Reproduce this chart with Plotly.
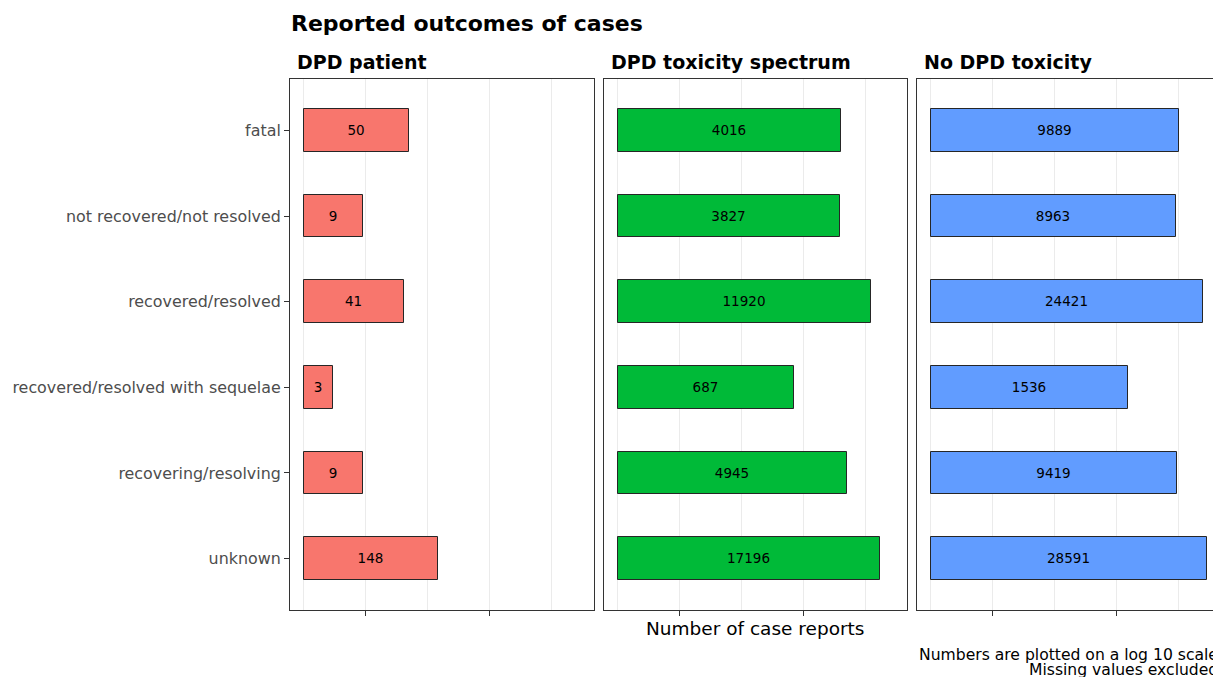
import numpy as np
import plotly.graph_objects as go

outcomes = ["fatal", "not recovered/not resolved", "recovered/resolved",
            "recovered/resolved with sequelae", "recovering/resolving", "unknown"]
panels = ["DPD patient", "DPD toxicity spectrum", "No DPD toxicity"]
dpd_patient = [50, 9, 41, 3, 9, 148]
dpd_toxicity_spectrum = [4016, 3827, 11920, 687, 4945, 17196]
no_dpd_toxicity = [9889, 8963, 24421, 1536, 9419, 28591]
panel_values = [dpd_patient, dpd_toxicity_spectrum, no_dpd_toxicity]
colors = ["#F8766D", "#00BA38", "#619CFF"]
major_ticks = [10, 1000]
minor_ticks = [1, 100, 10000]

W, H = 1213, 677
FONT = "DejaVu Sans"


def fx(px):
    return px / W


def fy(py):
    return 1 - py / H


# panel pixel extents on the page (left, right); last panel is clipped by the page edge
panel_px = [(290, 594), (604, 907), (917, 1213)]
full_width = 304.0
top_px, bottom_px = 79, 610

vmax = max(max(v) for v in panel_values)
lmax = np.log10(vmax)
lo = -0.05 * lmax
hi = lmax * 1.05
span = hi - lo

fig = go.Figure()
for i, (name, vals, col) in enumerate(zip(panels, panel_values, colors)):
    sfx = "" if i == 0 else str(i + 1)
    fig.add_trace(go.Bar(
        y=outcomes,
        x=[v - 1 for v in vals],
        base=1,
        orientation="h",
        width=0.5,
        marker=dict(color=col, line=dict(color="#262626", width=1)),
        text=[str(v) for v in vals],
        textposition="inside",
        insidetextanchor="middle",
        textangle=0,
        textfont=dict(family=FONT, size=13.5, color="black"),
        name=name,
        showlegend=False,
        hovertemplate="%{y}: %{text}<extra>" + name + "</extra>",
        xaxis="x" + sfx,
        yaxis="y" + sfx,
    ))

layout = dict(
    width=W, height=H,
    margin=dict(l=0, r=0, t=0, b=0),
    paper_bgcolor="white",
    plot_bgcolor="white",
    font=dict(family=FONT, color="black"),
    bargap=0,
)

for i in range(3):
    sfx = "" if i == 0 else str(i + 1)
    l, r = panel_px[i]
    rng_hi = lo + span * (r - l) / full_width
    layout["xaxis" + sfx] = dict(
        domain=[fx(l), min(1.0, fx(r))],
        type="log",
        range=[lo, rng_hi],
        tickvals=major_ticks,
        ticks="outside",
        ticklen=5,
        tickwidth=1,
        tickcolor="#333333",
        showticklabels=False,
        showgrid=True,
        gridcolor="#EBEBEB",
        gridwidth=1,
        minor=dict(tickvals=minor_ticks, showgrid=True, gridcolor="#EBEBEB",
                   gridwidth=1, ticks=""),
        showline=True,
        mirror=True,
        linecolor="#333333",
        linewidth=1,
        zeroline=False,
        anchor="y" + sfx,
        fixedrange=True,
    )
    ydict = dict(
        domain=[fy(bottom_px), fy(top_px)],
        type="category",
        categoryorder="array",
        categoryarray=outcomes,
        range=[len(outcomes) - 0.4, -0.6],
        showgrid=False,
        zeroline=False,
        showline=True,
        mirror=(i < 2),
        linecolor="#333333",
        linewidth=1,
        anchor="x" + sfx,
        fixedrange=True,
    )
    if i == 0:
        ydict.update(ticks="outside", ticklen=5, tickwidth=1, tickcolor="#333333",
                     tickfont=dict(family=FONT, size=15.9, color="#4D4D4D"),
                     ticklabelstandoff=0)
    else:
        ydict.update(ticks="", showticklabels=False, matches="y")
    layout["yaxis" + sfx] = ydict

annotations = [
    dict(text="<b>Reported outcomes of cases</b>", x=fx(289), y=fy(23),
         xref="paper", yref="paper", xanchor="left", yanchor="middle",
         showarrow=False, font=dict(family=FONT, size=22, color="black")),
    dict(text="Number of case reports", x=fx(755), y=fy(628),
         xref="paper", yref="paper", xanchor="center", yanchor="middle",
         showarrow=False, font=dict(family=FONT, size=18.5, color="black")),
    dict(text="Numbers are plotted on a log 10 scale", x=fx(1220), y=fy(655),
         xref="paper", yref="paper", xanchor="right", yanchor="middle",
         showarrow=False, font=dict(family=FONT, size=15.6, color="black")),
    dict(text="Missing values excluded", x=fx(1220), y=fy(670),
         xref="paper", yref="paper", xanchor="right", yanchor="middle",
         showarrow=False, font=dict(family=FONT, size=15.6, color="black")),
]
for i, name in enumerate(panels):
    annotations.append(dict(
        text="<b>" + name + "</b>", x=fx(panel_px[i][0] + 5), y=fy(62),
        xref="paper", yref="paper", xanchor="left", yanchor="middle",
        showarrow=False, font=dict(family=FONT, size=19, color="black")))
layout["annotations"] = annotations

fig.update_layout(**layout)
fig.write_html(
    "out.html",
    config={"displayModeBar": False},
    post_script="document.body.style.margin='0';document.body.style.overflow='hidden';",
)
